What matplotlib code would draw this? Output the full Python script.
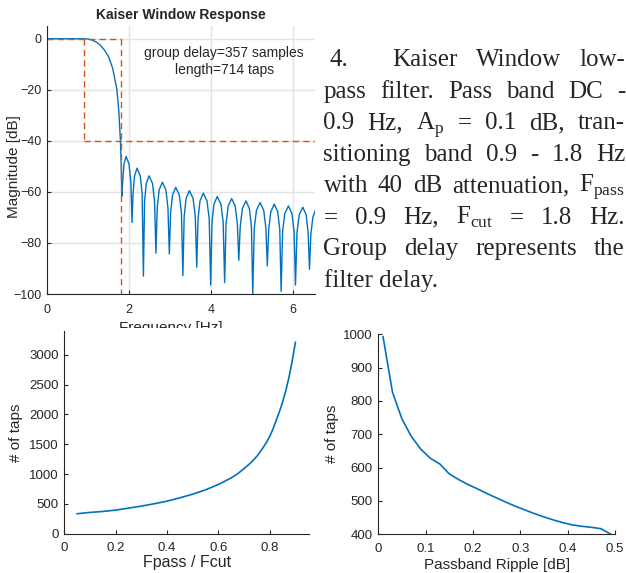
import matplotlib
matplotlib.use('Agg')
from matplotlib import pyplot as plt
from matplotlib.patches import Rectangle

W, H = 626, 573

# Kaiser window response (Hz, dB)
resp_freq = [0, 0.95, 1.0, 1.1, 1.2, 1.3, 1.4, 1.5, 1.6, 1.7, 1.75, 1.79, 1.81, 1.825,
             1.845, 1.876, 1.927, 2.000, 2.044, 2.073,
             2.097, 2.134, 2.195, 2.273, 2.319, 2.350,
             2.378, 2.419, 2.488, 2.572, 2.622, 2.655,
             2.687, 2.734, 2.813, 2.898, 2.948, 2.982,
             3.013, 3.060, 3.138, 3.225, 3.277, 3.312,
             3.344, 3.391, 3.470, 3.560, 3.614, 3.650,
             3.682, 3.730, 3.810, 3.900, 3.954, 3.990,
             4.022, 4.070, 4.150, 4.240, 4.294, 4.330,
             4.364, 4.415, 4.500, 4.588, 4.640, 4.675,
             4.710, 4.763, 4.850, 4.933, 4.983, 5.016,
             5.052, 5.106, 5.195, 5.283, 5.335, 5.370,
             5.404, 5.455, 5.540, 5.624, 5.674, 5.707,
             5.743, 5.796, 5.885, 5.971, 6.023, 6.057,
             6.093, 6.147, 6.236, 6.317, 6.366, 6.398,
             6.432, 6.480, 6.540]
resp_db = [0, 0, -0.1, -0.5, -1.3, -2.5, -4.4, -7.0, -11.5, -19.5, -28, -40, -50, -61.7,
           -56.1, -49.1, -46.1, -49.1, -56.1, -72.0,
           -60.7, -53.7, -50.7, -53.7, -60.7, -93.0,
           -63.7, -56.7, -53.7, -56.7, -63.7, -84.0,
           -66.2, -59.2, -56.2, -59.2, -66.2, -84.3,
           -68.2, -61.2, -58.2, -61.2, -68.2, -92.8,
           -69.5, -62.5, -59.5, -62.5, -69.5, -89.5,
           -70.5, -63.5, -60.5, -63.5, -70.5, -96.5,
           -71.8, -64.8, -61.8, -64.8, -71.8, -95.5,
           -72.6, -65.6, -62.6, -65.6, -72.6, -86.8,
           -73.5, -66.5, -63.5, -66.5, -73.5, -100.0,
           -74.2, -67.2, -64.2, -67.2, -74.2, -89.0,
           -74.8, -67.8, -64.8, -67.8, -74.8, -99.0,
           -75.5, -68.5, -65.5, -68.5, -75.5, -96.5,
           -76.0, -69.0, -66.0, -69.0, -76.0, -90.3,
           -76.5, -70.0, -67.3]

f_pass = 0.9
f_cut = 1.8
atten_db = -40

# taps vs Fpass/Fcut
ratio = [0.05, 0.1, 0.15, 0.2, 0.25, 0.3, 0.35, 0.4, 0.45, 0.5, 0.55, 0.6, 0.65,
         0.675, 0.7, 0.725, 0.75, 0.7625, 0.775, 0.7875, 0.8, 0.8125, 0.825, 0.8375,
         0.85, 0.8625, 0.875, 0.8875, 0.9]
taps_ratio = [335, 357, 373, 396, 429, 463, 502, 546, 602, 663, 736, 825, 936,
              1005, 1092, 1185, 1299, 1372, 1450, 1535, 1633, 1755, 1900, 2045,
              2207, 2400, 2625, 2900, 3211]

# taps vs passband ripple
ripple = [0.01, 0.03, 0.05, 0.07, 0.09, 0.11, 0.13, 0.15, 0.17, 0.19, 0.21, 0.23,
          0.25, 0.27, 0.29, 0.31, 0.33, 0.35, 0.37, 0.39, 0.41, 0.43, 0.45, 0.47, 0.49]
taps_ripple = [993, 826, 746, 693, 655, 628, 611, 581, 564, 549, 536, 522,
               509, 496, 484, 473, 462, 452, 443, 435, 428, 424, 421, 417, 401]

caption = [["Kaiser", "Window", "low-"],
           ["pass", "filter.", "Pass", "band", "DC", "-"],
           ["0.9", "Hz,", r"A$_\mathrm{p}$", "=", "0.1", "dB,", "tran-"],
           ["sitioning", "band", "0.9", "-", "1.8", "Hz"],
           ["with", "40", "dB", "attenuation,", r"F$_\mathrm{pass}$"],
           ["=", "0.9", "Hz,", r"F$_\mathrm{cut}$", "=", "1.8", "Hz."],
           ["Group", "delay", "represents", "the"],
           ["filter delay."]]

blue = '#0072BD'
red = '#D95319'
dark = '#262626'

plt.rcParams['font.family'] = ['Liberation Sans', 'DejaVu Sans']
plt.rcParams['mathtext.fontset'] = 'custom'
plt.rcParams['mathtext.rm'] = 'Liberation Serif'
plt.rcParams['text.color'] = dark
plt.rcParams['axes.labelcolor'] = dark
plt.rcParams['xtick.color'] = dark
plt.rcParams['ytick.color'] = dark
plt.rcParams['axes.edgecolor'] = dark

fig = plt.figure(figsize=(W / 100, H / 100), dpi=100)


def px_axes(left, top, right, bottom):
    return fig.add_axes([left / W, 1 - bottom / H, (right - left) / W, (bottom - top) / H])


def style(ax, size):
    for s in ['top', 'right']:
        ax.spines[s].set_visible(False)
    ax.tick_params(direction='in', length=3, labelsize=size, width=0.8)
    ax.tick_params(axis='x', pad=4)
    ax.tick_params(axis='y', pad=4)


# top: filter response
ax = px_axes(47, 26, 315.3, 294)
ax.set_zorder(0)
ax.plot(resp_freq, resp_db, color=blue, lw=1.0)
ax.plot([0, f_cut], [0, 0], color=red, lw=1.0, ls=(0, (4.5, 3)))
ax.plot([f_cut, f_cut], [0, -100], color=red, lw=1.0, ls=(0, (4.5, 3)))
ax.plot([f_pass, f_pass], [0, atten_db], color=red, lw=1.0, ls=(0, (4.5, 3)))
ax.plot([f_pass, 6.54], [atten_db, atten_db], color=red, lw=1.0, ls=(0, (4.5, 3)))
ax.set_xlim(0, 6.54)
ax.set_ylim(-100, 5)
ax.set_xticks([0, 2, 4, 6])
ax.set_yticks([0, -20, -40, -60, -80, -100])
ax.grid(True, color='#e3e3e3', lw=1.0)
ax.set_axisbelow(True)
style(ax, 9)
ax.tick_params(axis='x', pad=7)
ax.set_title('Kaiser Window Response', fontsize=10, fontweight='bold', pad=4.8)
ax.set_xlabel('Frequency [Hz]', fontsize=11)
ax.xaxis.set_label_coords(0.46, -0.14)
ax.xaxis.label.set_va('baseline')
ax.set_ylabel('Magnitude [dB]', fontsize=11)
ax.yaxis.set_label_coords(-0.123, 0.475)
ax.yaxis.label.set_va('center')
ax.text(4.32, -5.4, 'group delay=357 samples', fontsize=10, ha='center', va='center')
ax.text(4.32, -12.4, 'length=714 taps', fontsize=10, ha='center', va='center')

# white cover where the lower panels sit
cover = Rectangle((0, 0), 312 / W, 1 - 328 / H, transform=fig.transFigure,
                  facecolor='white', edgecolor='none', zorder=0.5)
fig.patches.append(cover)

# bottom left: taps vs ratio
ax2 = px_axes(64.3, 331, 309.3, 533.7)
ax2.set_zorder(1)
ax2.plot(ratio, taps_ratio, color=blue, lw=1.2)
ax2.set_xlim(0, 0.954)
ax2.set_ylim(0, 3400)
ax2.set_xticks([0, 0.2, 0.4, 0.6, 0.8])
ax2.set_xticklabels(['0', '0.2', '0.4', '0.6', '0.8'])
ax2.set_yticks([0, 500, 1000, 1500, 2000, 2500, 3000])
style(ax2, 9.5)
ax2.tick_params(axis='x', pad=6)
ax2.set_xlabel('Fpass / Fcut', fontsize=11.5)
ax2.xaxis.set_label_coords(0.5, -0.143)
ax2.xaxis.label.set_va('center')
ax2.set_ylabel('# of taps', fontsize=11)
ax2.yaxis.set_label_coords(-0.196, 0.5)
ax2.yaxis.label.set_va('center')

# bottom right: taps vs ripple
ax3 = px_axes(378.3, 334.3, 615, 534.3)
ax3.set_zorder(1)
ax3.plot(ripple, taps_ripple, color=blue, lw=1.2)
ax3.set_xlim(0, 0.5)
ax3.set_ylim(400, 1000)
ax3.set_xticks([0, 0.1, 0.2, 0.3, 0.4, 0.5])
ax3.set_xticklabels(['0', '0.1', '0.2', '0.3', '0.4', '0.5'])
ax3.set_yticks([400, 500, 600, 700, 800, 900, 1000])
style(ax3, 9.5)
ax3.tick_params(axis='x', pad=6)
ax3.set_xlabel('Passband Ripple [dB]', fontsize=11)
ax3.xaxis.set_label_coords(0.5, -0.1535)
ax3.xaxis.label.set_va('center')
ax3.set_ylabel('# of taps', fontsize=11)
ax3.yaxis.set_label_coords(-0.196, 0.5)
ax3.yaxis.label.set_va('center')

# caption on the right, justified
renderer = fig.canvas.get_renderer()
serif = ['Liberation Serif', 'DejaVu Serif']
fig.text(330 / W, 1 - 66.3 / H, '4.', fontsize=18, family=serif, va='baseline')
for i, words in enumerate(caption):
    y = 66.3 + 31.5 * i
    x0 = 392.7 if i == 0 else 323.5
    x1 = 625
    arts = [fig.text(0, 0, w, fontsize=18, family=serif, va='baseline') for w in words]
    widths = [a.get_window_extent(renderer).width for a in arts]
    if len(words) > 1 and i < len(caption) - 1:
        gap = (x1 - x0 - sum(widths)) / (len(words) - 1)
    else:
        gap = 5
    x = x0
    for a, w in zip(arts, widths):
        a.set_position((x / W, 1 - y / H))
        x += w + gap

fig.savefig('out.png', dpi=100)
